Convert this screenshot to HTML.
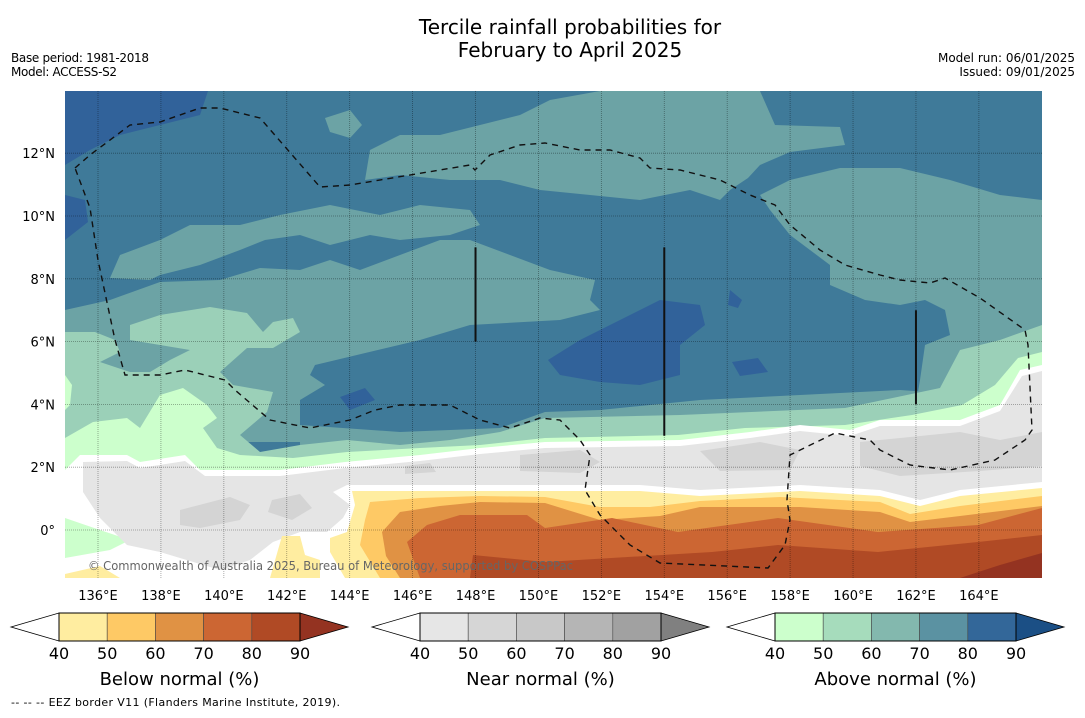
<!DOCTYPE html>
<html><head><meta charset="utf-8">
<style>
html,body{margin:0;padding:0;background:#fff;}
body{width:1085px;height:713px;overflow:hidden;font-family:"Liberation Sans","DejaVu Sans",sans-serif;}
svg text{font-family:"DejaVu Sans","Liberation Sans",sans-serif;}
</style></head>
<body>
<svg id="fig" width="1085" height="713" viewBox="0 0 1085 713" xmlns="http://www.w3.org/2000/svg">
<text x="570" y="34" font-size="20" text-anchor="middle" fill="#000">Tercile rainfall probabilities for</text>
<text x="570" y="57" font-size="20" text-anchor="middle" fill="#000">February to April 2025</text>
<text x="11" y="62" font-size="12" textLength="138">Base period: 1981-2018</text>
<text x="11" y="76" font-size="12" textLength="106">Model: ACCESS-S2</text>
<text x="1075" y="62" font-size="12" text-anchor="end">Model run: 06/01/2025</text>
<text x="1075" y="76" font-size="12" text-anchor="end">Issued: 09/01/2025</text>
<defs><clipPath id="mapclip"><rect x="65" y="91" width="977" height="487"/></clipPath></defs>
<g id="map" clip-path="url(#mapclip)"></g>
<g id="axes"></g>
<g id="bars"></g>
<text x="11" y="706" font-size="11" textLength="329">--  --  -- EEZ border V11 (Flanders Marine Institute, 2019).</text>
</svg>
<script>
const lonTicks=[136,138,140,142,144,146,148,150,152,154,156,158,160,162,164];
const latTicks=[0,2,4,6,8,10,12];
const latLabels=["0°","2°N","4°N","6°N","8°N","10°N","12°N"];
const barTicks=[40,50,60,70,80,90];
const belowColors=["#ffeda0","#fec965","#e09244","#cc6633","#b04a25","#943321"];
const nearColors=["#e6e6e6","#d6d6d6","#c8c8c8","#b5b5b5","#a1a1a1","#808080"];
const aboveColors=["#ccffcc","#a6dcbc","#83b8ae","#5b92a2","#336799","#1b4f85"];
// map geometry (screen-space contour outlines)
const contours=[
["#3f7a99",[[65,91],[1042,91],[1042,578],[65,578]]],
["#31629a",[[65,91],[208,91],[200,115],[160,125],[120,135],[90,150],[65,165]]],
["#31629a",[[65,195],[85,200],[88,222],[65,240]]],
["#31629a",[[548,360],[580,340],[610,325],[660,300],[700,305],[705,325],[680,345],[680,375],[640,385],[600,382],[560,375]]],
["#31629a",[[730,290],[742,300],[738,308],[728,305]]],
["#31629a",[[340,397],[365,388],[375,400],[350,410]]],
["#31629a",[[732,362],[758,358],[768,372],[740,376]]],
["#6ca3a5",[[325,118],[350,110],[362,125],[350,138],[330,132]]],
["#6ca3a5",[[365,180],[370,150],[400,135],[440,135],[480,125],[520,115],[550,100],[600,91],[760,91],[775,125],[840,127],[845,145],[790,152],[760,165],[748,178],[730,190],[720,200],[690,190],[640,200],[590,195],[540,190],[500,180],[450,180],[400,175]]],
["#6ca3a5",[[760,195],[790,180],[840,168],[900,168],[950,180],[1000,195],[1042,200],[1042,430],[915,410],[920,380],[925,345],[950,335],[945,310],[925,300],[900,305],[865,300],[830,285],[830,265],[790,235],[770,210]]],
["#6ca3a5",[[110,278],[120,255],[160,240],[190,225],[240,225],[280,215],[330,205],[380,215],[420,205],[470,210],[480,225],[450,235],[400,240],[370,235],[330,245],[300,235],[265,240],[240,250],[200,265],[160,275],[150,280]]],
["#6ca3a5",[[65,310],[110,300],[160,282],[220,280],[260,268],[300,270],[330,260],[360,270],[400,255],[440,240],[470,240],[510,255],[550,270],[595,280],[590,300],[600,310],[560,320],[470,325],[420,340],[315,365],[310,375],[325,385],[300,400],[300,430],[340,442],[400,442],[65,442]]],
["#6ca3a5",[[300,425],[400,432],[500,428],[545,412],[600,410],[700,400],[800,395],[900,390],[1042,400],[1042,470],[300,470]]],
["#9bd0b8",[[65,332],[95,332],[115,340],[120,352],[100,362],[130,372],[150,372],[170,360],[190,350],[130,340],[130,325],[160,315],[210,307],[247,313],[263,332],[273,322],[293,318],[300,332],[273,348],[247,348],[220,372],[233,385],[273,392],[267,412],[240,435],[260,452],[300,445],[347,440],[400,445],[450,440],[500,432],[545,418],[680,415],[845,408],[940,388],[960,350],[1000,340],[1042,325],[1042,578],[65,578]]],
["#ccffcc",[[65,438],[93,422],[127,418],[140,428],[160,395],[183,388],[207,405],[217,418],[203,428],[217,448],[240,455],[293,458],[347,452],[420,448],[480,445],[545,438],[678,435],[745,428],[845,425],[912,415],[962,405],[995,385],[1018,358],[1042,352],[1042,578],[65,578]]],
["#ccffcc",[[65,375],[72,385],[70,405],[65,410]]],
["#ffffff",[[65,470],[80,455],[127,455],[140,462],[185,455],[200,470],[280,470],[345,462],[420,455],[480,448],[545,442],[680,440],[750,432],[800,425],[850,430],[880,420],[960,420],[1000,405],[1020,370],[1042,365],[1042,578],[65,578]]],
["#ccffcc",[[65,518],[100,530],[130,540],[110,550],[65,558]]],
["#e5e5e5",[[83,462],[127,461],[140,468],[185,461],[205,476],[280,476],[345,468],[420,461],[480,454],[545,448],[680,446],[750,438],[800,431],[850,436],[880,426],[960,426],[1000,411],[1022,376],[1042,371],[1042,482],[960,490],[920,500],[880,490],[800,485],[700,490],[640,485],[545,485],[400,485],[347,485],[333,492],[350,505],[343,518],[327,532],[300,532],[273,542],[250,560],[220,570],[160,552],[127,545],[100,518],[83,492]]],
["#d4d4d4",[[180,510],[230,497],[250,505],[240,520],[200,528],[180,525]]],
["#d4d4d4",[[272,500],[300,494],[312,508],[292,520],[268,512]]],
["#d4d4d4",[[405,466],[430,463],[436,472],[405,474]]],
["#d4d4d4",[[520,455],[580,450],[600,462],[580,473],[520,471]]],
["#d4d4d4",[[700,451],[760,442],[800,450],[790,470],[720,471]]],
["#d4d4d4",[[860,442],[960,432],[1000,440],[1042,432],[1042,466],[980,471],[900,476],[860,466]]],
["#ffeda0",[[352,491],[545,491],[640,491],[700,496],[800,491],[880,496],[920,506],[960,496],[1042,488],[1042,578],[345,578],[330,552],[330,538],[347,532],[355,505]]],
["#ffeda0",[[282,536],[300,536],[305,555],[320,560],[320,578],[270,578]]],
["#ffeda0",[[65,574],[100,566],[120,578],[65,578]]],
["#fec965",[[370,502],[420,498],[480,496],[545,497],[600,507],[650,507],[700,501],[780,497],[880,502],[910,514],[960,506],[1042,496],[1042,578],[380,578],[360,545],[365,520]]],
["#e09244",[[382,532],[400,512],[440,506],[480,502],[545,503],[600,520],[660,516],[700,507],[800,507],[880,512],[910,522],[960,516],[1042,506],[1042,578],[400,578],[386,556]]],
["#cc6633",[[407,542],[427,525],[460,515],[527,515],[545,528],[612,518],[678,532],[778,518],[878,532],[978,525],[1042,508],[1042,578],[420,578]]],
["#b04a25",[[473,555],[545,562],[712,552],[778,545],[878,552],[978,542],[1042,535],[1042,578],[470,578]]],
["#943321",[[960,578],[1000,565],[1042,553],[1042,578]]]
];
const eez=[[75,168],[90,155],[130,125],[160,122],[200,108],[220,108],[260,118],[320,187],[350,185],[470,165],[475,170],[490,155],[520,145],[545,143],[580,150],[610,150],[640,158],[650,168],[680,170],[720,180],[750,195],[775,205],[790,225],[820,250],[845,265],[880,275],[900,280],[930,283],[945,278],[980,298],[1025,330],[1028,345],[1032,430],[1025,440],[995,460],[950,470],[910,465],[880,450],[870,440],[835,433],[790,455],[787,500],[790,520],[785,545],[768,568],[660,563],[630,545],[600,515],[585,490],[590,455],[580,440],[560,420],[540,418],[510,428],[480,420],[450,405],[400,405],[375,410],[350,420],[310,428],[270,420],[235,390],[225,380],[185,370],[160,375],[125,375],[115,340],[98,260],[90,208],[75,168]];
const NS="http://www.w3.org/2000/svg";
const X=lon=>98+(lon-136)*31.46;
const Y=lat=>530-lat*31.4;
function mk(tag,attrs,parent){const e=document.createElementNS(NS,tag);for(const k in attrs)e.setAttribute(k,attrs[k]);parent.appendChild(e);return e;}
const map=document.getElementById('map');
contours.forEach((c,i)=>{
  const p=mk('polygon',{points:c[1].map(q=>q.join(',')).join(' '),fill:c[0]},map);
  
  
});
lonTicks.forEach(l=>{const g=mk('line',{x1:X(l),x2:X(l),y1:91,y2:578,stroke:'rgba(0,0,0,0.4)','stroke-width':0.8,'stroke-dasharray':'1,1'},map);
  
  });
latTicks.concat([14]).forEach(l=>{const g=mk('line',{x1:65,x2:1042,y1:Y(l),y2:Y(l),stroke:'rgba(0,0,0,0.4)','stroke-width':0.8,'stroke-dasharray':'1,1'},map);
  
  });
const ez=mk('polyline',{points:eez.map(q=>q.join(',')).join(' '),fill:'none',stroke:'#111','stroke-width':1.4,'stroke-dasharray':'6,5'},map);


[[148,6,9],[154,3,9],[162,4,7]].forEach(v=>{const l=mk('line',{x1:X(v[0]),x2:X(v[0]),y1:Y(v[1]),y2:Y(v[2]),stroke:'#111','stroke-width':2},map);
  
  });
const cp=mk('text',{x:88,y:570,'font-size':12,fill:'#666',textLength:485,lengthAdjust:'spacingAndGlyphs'},map);
cp.textContent='© Commonwealth of Australia 2025, Bureau of Meteorology, supported by COSPPac';


const ax=document.getElementById('axes');
lonTicks.forEach(l=>{const t=mk('text',{x:X(l),y:600,'font-size':13,'text-anchor':'middle'},ax);t.textContent=l+'°E';
  
  });
latTicks.forEach((l,i)=>{const t=mk('text',{x:55,y:Y(l)+5,'font-size':13,'text-anchor':'end'},ax);t.textContent=latLabels[i];
  
  });
const bars=document.getElementById('bars');
function colorbar(x0,cols,title,name){
  const w=48.2,y0=613,h=28,tri=48;
  const g=mk('g',{},bars);
  
  
  mk('polygon',{points:`${x0},${y0+h/2} ${x0+tri},${y0} ${x0+tri},${y0+h}`,fill:'#fff',stroke:'#000','stroke-width':0.8},g);
  const xe=x0+tri+w*5;
  mk('polygon',{points:`${xe},${y0} ${xe+tri},${y0+h/2} ${xe},${y0+h}`,fill:cols[5],stroke:'#000','stroke-width':0.8},g);
  for(let i=0;i<5;i++){mk('rect',{x:x0+tri+i*w,y:y0,width:w,height:h,fill:cols[i],stroke:'#444','stroke-width':0.6},g);}
  mk('rect',{x:x0+tri,y:y0,width:w*5,height:h,fill:'none',stroke:'#000','stroke-width':1},g);
  barTicks.forEach((v,i)=>{const t=mk('text',{x:x0+tri+i*w,y:659,'font-size':16,'text-anchor':'middle'},g);t.textContent=v;
    
    });
  const t=mk('text',{x:x0+tri+w*2.5,y:685,'font-size':18,'text-anchor':'middle'},g);t.textContent=title;
  
  
}
colorbar(11,belowColors,'Below normal (%)','below-normal-colorbar');
colorbar(372,nearColors,'Near normal (%)','near-normal-colorbar');
colorbar(727,aboveColors,'Above normal (%)','above-normal-colorbar');
</script>
</body></html>
